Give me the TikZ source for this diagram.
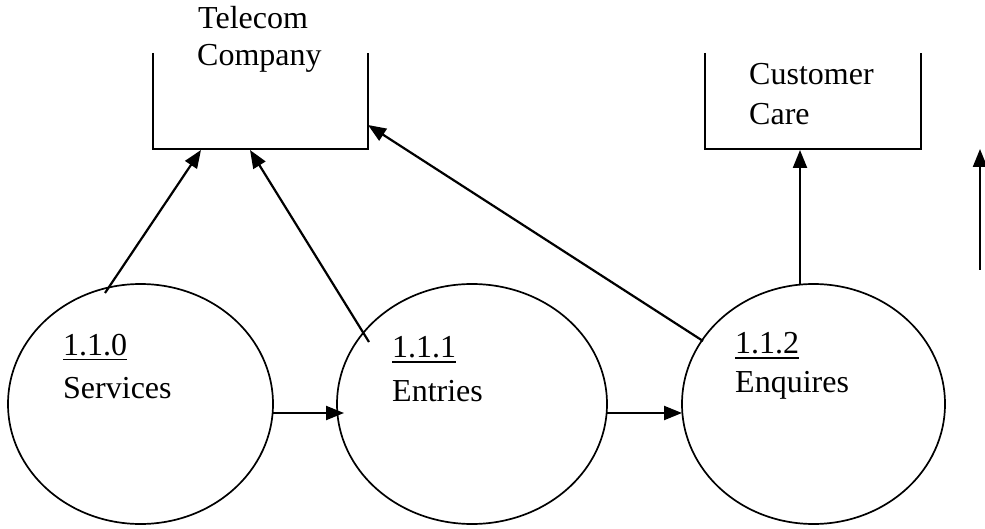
\documentclass[tikz,border=0pt]{standalone}
\usepackage{fontspec}
\setmainfont{Liberation Serif}
\usetikzlibrary{arrows.meta}
\newcommand{\myul}[1]{\setbox0\hbox{#1}\leavevmode\rlap{\copy0}\rlap{\raisebox{-5.5pt}{\rule{\wd0}{1.6pt}}}\hphantom{\box0}}
\begin{document}
\begin{tikzpicture}[x=1pt,y=-1pt,
  flow/.style={line width=2.2pt,-{Triangle[length=18pt,width=14pt]}},
  lbl/.style={anchor=base west,inner sep=0pt,font=\fontsize{32}{38}\selectfont}]
\useasboundingbox (0,0) rectangle (985,529);
% boxes (open at the top)
\coordinate (tnw) at (153,53); \coordinate (tsw) at (153,149);
\coordinate (tse) at (368,149); \coordinate (tne) at (368,53);
\draw[line width=2pt] (tnw) -- (tsw) -- (tse) -- (tne);
\coordinate (cnw) at (705,53); \coordinate (csw) at (705,149);
\coordinate (cse) at (921,149); \coordinate (cne) at (921,53);
\draw[line width=2pt] (cnw) -- (csw) -- (cse) -- (cne);
\node[lbl] (tel1) at (198,29) {Telecom};
\node[lbl] (tel2) at (197,66) {Company};
\node[lbl] (cc1) at (749,85) {Customer};
\node[lbl] (cc2) at (749,125) {Care};
% processes
\draw[line width=1.7pt] (140.5,404) ellipse [x radius=132.5, y radius=120];
\draw[line width=1.7pt] (472,404) ellipse [x radius=135, y radius=120];
\draw[line width=1.7pt] (813.5,404) ellipse [x radius=131.5, y radius=120];
\node[lbl] (p0a) at (63,355) {\myul{1.1.0}};
\node[lbl] (p0b) at (63,398) {Services};
\node[lbl] (p1a) at (392,357) {\myul{1.1.1}};
\node[lbl] (p1b) at (392,401) {Entries};
\node[lbl] (p2a) at (735,353) {\myul{1.1.2}};
\node[lbl] (p2b) at (735,392) {Enquires};
% connector end points
\coordinate (a1s) at (105,293); \coordinate (a1e) at (201,150);
\coordinate (a2s) at (369,342); \coordinate (a2e) at (250,150);
\coordinate (a3s) at (703,341); \coordinate (a3e) at (368,125);
\coordinate (a4s) at (800,284); \coordinate (a4e) at (800,150);
\coordinate (a5s) at (980,270); \coordinate (a5e) at (980,149);
\coordinate (h1s) at (273,413); \coordinate (h1e) at (344,413);
\coordinate (h2s) at (607,413); \coordinate (h2e) at (682,413);
\draw[flow] (a1s) -- (a1e);
\draw[flow] (a2s) -- (a2e);
\draw[flow] (a3s) -- (a3e);
\draw[flow] (a4s) -- (a4e);
\draw[flow] (a5s) -- (a5e);
\draw[flow] (h1s) -- (h1e);
\draw[flow] (h2s) -- (h2e);
\end{tikzpicture}
\end{document}
